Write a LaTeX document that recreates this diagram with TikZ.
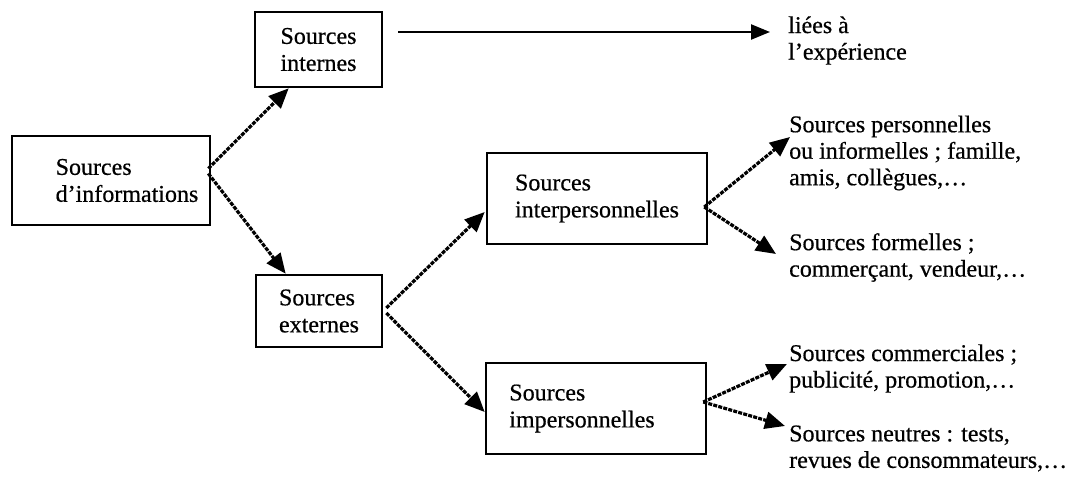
\documentclass[tikz,border=0pt]{standalone}
\usepackage{fontspec}
\setmainfont{Liberation Serif}[FakeBold=0.6]
\usetikzlibrary{arrows.meta,calc}
\begin{document}
\begin{tikzpicture}[x=1pt,y=-1pt,
  box/.style={draw,line width=2.6pt,rectangle,align=left,inner sep=0pt,font=\fontsize{24}{27}\selectfont},
  lbl/.style={anchor=west,align=left,inner sep=0pt,font=\fontsize{24}{26.5}\selectfont},
  diag/.style={line width=3.2pt,dash pattern=on 4pt off 1.2pt,-{Triangle[length=20pt,width=17pt]}},
  plain/.style={line width=2.4pt,-{Triangle[length=19pt,width=15pt]}}]
\useasboundingbox (0,0) rectangle (1077,484);
% boxes
\node[box,minimum width=198pt,minimum height=89pt] (info) at (111,180.5)
  {\hspace*{32pt}Sources\\\hspace*{32pt}d’informations};
\node[box,minimum width=127pt,minimum height=75pt] (internes) at (318.5,49.5) {Sources\\internes};
\node[box,minimum width=126pt,minimum height=72pt] (externes) at (319,311) {Sources\\externes};
\node[box,minimum width=220pt,minimum height=91pt] (inter) at (597,198.5) {Sources\\interpersonnelles};
\node[box,minimum width=220pt,minimum height=91pt] (imper) at (596,408.5) {\hspace*{-28pt}Sources\\\hspace*{-28pt}impersonnelles};
% texts
\node[lbl] (liees) at (788,40.5) {liées à\\l’expérience};
\node[lbl] (perso) at (789,153) {Sources personnelles\\ou informelles ; famille,\\amis, collègues,\ldots};
\node[lbl] (formel) at (789,257.5) {Sources formelles ;\\commerçant, vendeur,\ldots};
\node[lbl] (commerc) at (789,368.5) {Sources commerciales ;\\publicité, promotion,\ldots};
\node[lbl] (neutres) at (789,448.5) {Sources neutres : tests,\\revues de consommateurs,\ldots};
% connectors
\draw[diag] ($(info.east)+(-3,-12)$) -- ($(internes.south west)+(35,0)$);
\draw[diag] ($(info.east)+(-3,-7)$) -- ($(externes.north west)+(31,0)$);
\draw[plain] ($(internes.east)+(15,-17.5)$) -- ($(liees.west)+(-18,-8.5)$);
\draw[diag] ($(externes.east)+(3,-3)$) -- ($(inter.west)+(-1,13.5)$);
\draw[diag] ($(externes.east)+(3,2)$) -- ($(imper.west)+(0,3.5)$);
\draw[diag] ($(inter.east)+(-4,8.5)$) -- ($(perso.west)+(1,-16)$);
\draw[diag] ($(inter.east)+(-4,8.5)$) -- ($(formel.west)+(-13,-3.5)$);
\draw[diag] ($(imper.east)+(-4,-6.5)$) -- ($(commerc.west)+(-2,-4.5)$);
\draw[diag] ($(imper.east)+(-4,-6.5)$) -- ($(neutres.west)+(-4,-22.5)$);
\end{tikzpicture}
\end{document}
